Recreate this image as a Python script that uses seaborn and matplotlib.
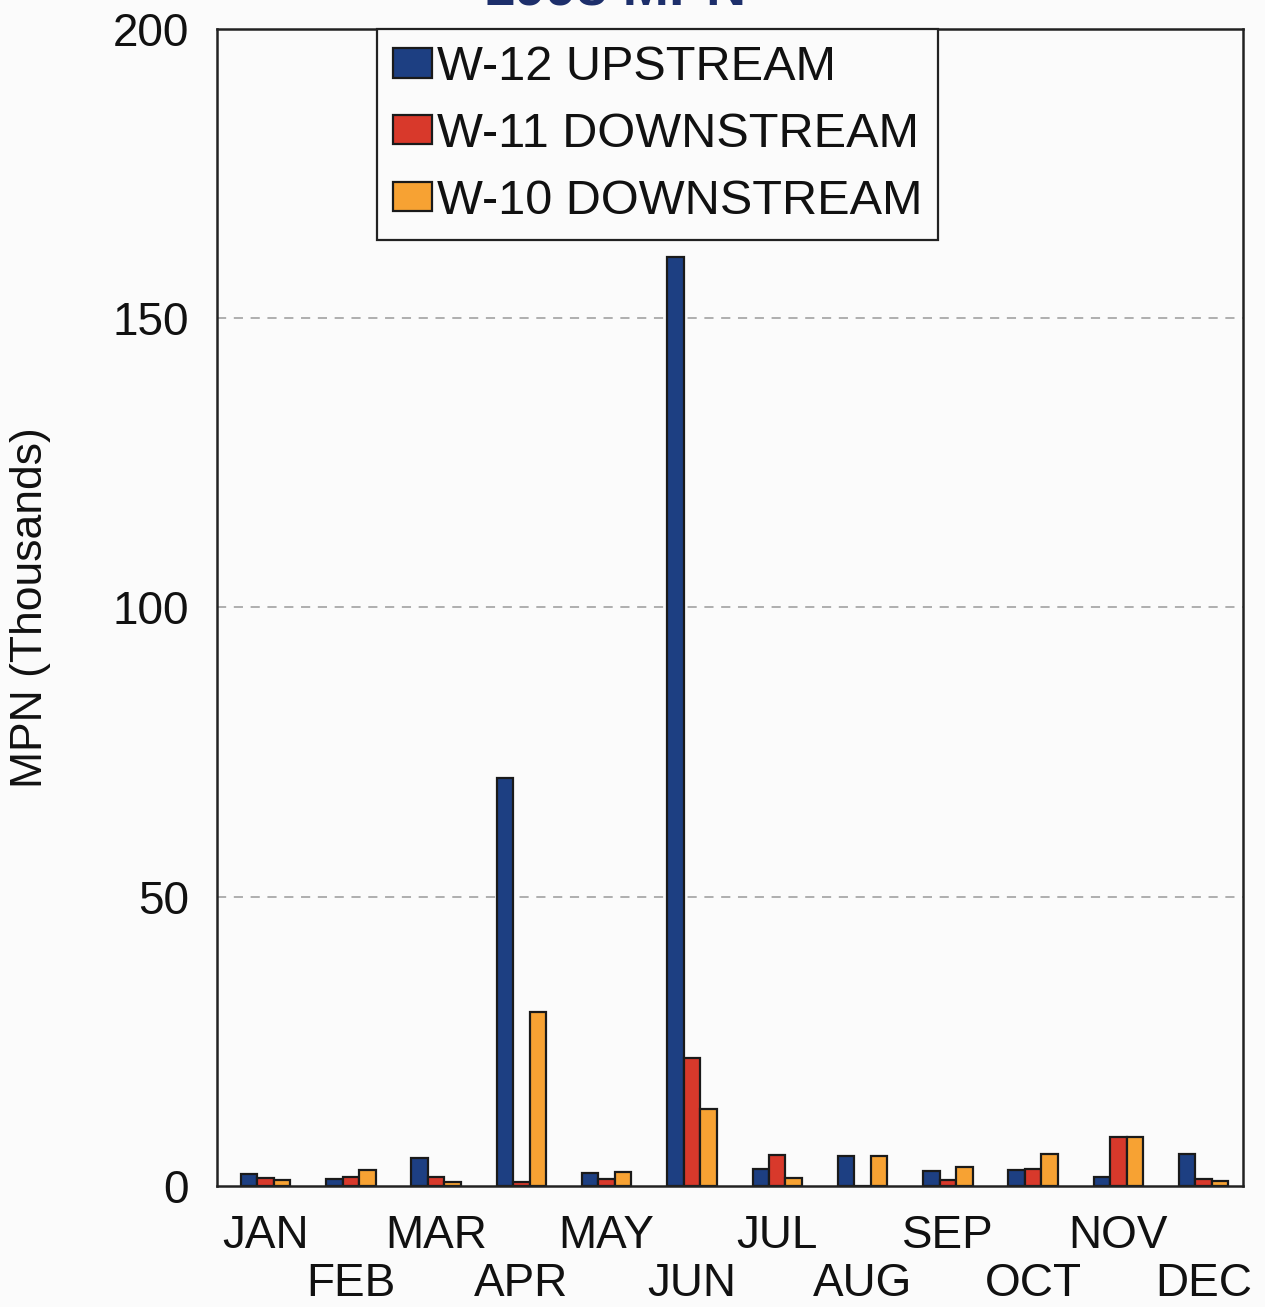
import numpy as np
import pandas as pd
import matplotlib
matplotlib.use("Agg")
import matplotlib.pyplot as plt
import seaborn as sns

# monthly MPN counts (thousands)
months = ["JAN", "FEB", "MAR", "APR", "MAY", "JUN",
          "JUL", "AUG", "SEP", "OCT", "NOV", "DEC"]
w12_upstream = [2.1, 1.2, 4.9, 70.5, 2.2, 160.6, 2.9, 5.2, 2.6, 2.8, 1.6, 5.5]
w11_downstream = [1.4, 1.6, 1.6, 0.7, 1.2, 22.2, 5.4, 0.0, 1.0, 2.9, 8.5, 1.2]
w10_downstream = [1.0, 2.8, 0.7, 30.1, 2.4, 13.3, 1.4, 5.2, 3.3, 5.5, 8.5, 0.9]
series_names = ["W-12 UPSTREAM", "W-11 DOWNSTREAM", "W-10 DOWNSTREAM"]
series_colors = ["#1d3f82", "#d8392b", "#f7a233"]

df = pd.DataFrame({
    "month": months * 3,
    "site": np.repeat(series_names, len(months)),
    "mpn": w12_upstream + w11_downstream + w10_downstream,
})

sns.set_theme(style="white")
plt.rcParams["font.family"] = ["Liberation Sans", "DejaVu Sans"]
plt.rcParams["text.color"] = "#111111"

fig = plt.figure(figsize=(12.65, 13.07), dpi=100)
fig.patch.set_facecolor("#fbfbfb")
ax = fig.add_axes([0.1715, 0.0926, 0.811, 0.8852])
ax.set_facecolor("#fbfbfb")

sns.barplot(data=df, x="month", y="mpn", hue="site", order=months,
            hue_order=series_names, palette=series_colors, width=0.58,
            edgecolor="#1a1a1a", linewidth=1.6, saturation=1, ax=ax)

ax.set_ylim(0, 200)
ax.set_xlim(-0.57, 11.46)
ax.set_yticks([0, 50, 100, 150, 200])
ax.set_yticklabels(["0", "50", "100", "150", "200"], fontsize=33)
ax.set_xticks(range(len(months)))
ax.set_xticklabels(months, fontsize=33)
ax.tick_params(axis="both", length=0, labelcolor="#111111")
ax.tick_params(axis="y", pad=20)
# staggered month labels: odd months drop to a second row
for i, tick in enumerate(ax.xaxis.get_major_ticks()):
    tick.set_pad(20 if i % 2 == 0 else 55)

for y in [50, 100, 150]:
    ax.axhline(y, color="#9a9a9a", linestyle=(0, (6, 5)), linewidth=1.1, zorder=0)

for side in ["left", "right", "top", "bottom"]:
    ax.spines[side].set_visible(True)
    ax.spines[side].set_color("#222222")
    ax.spines[side].set_linewidth(1.8)

ax.set_xlabel("")
ax.set_ylabel("MPN (Thousands)", fontsize=32, color="#111111")
ax.yaxis.set_label_coords(-0.162, 0.5)

leg = ax.legend(loc="upper left", bbox_to_anchor=(0.156, 1.0), borderaxespad=0,
                fontsize=35, frameon=True, fancybox=False, edgecolor="#222222",
                handlelength=0.8, handleheight=0.55, handletextpad=0.1,
                labelspacing=0.45, borderpad=0.33, title=None)
leg.get_frame().set_linewidth(1.6)
leg.get_frame().set_facecolor("#fbfbfb")
leg.get_frame().set_alpha(1)
for t in leg.get_texts():
    t.set_color("#111111")

# title sits mostly above the visible canvas in the reference
fig.text(0.486, 0.9955, "1998 MPN", ha="center", va="baseline",
         fontsize=40, fontweight="bold", color="#1d2f6b")

fig.savefig("out.png", dpi=100, facecolor=fig.get_facecolor())
